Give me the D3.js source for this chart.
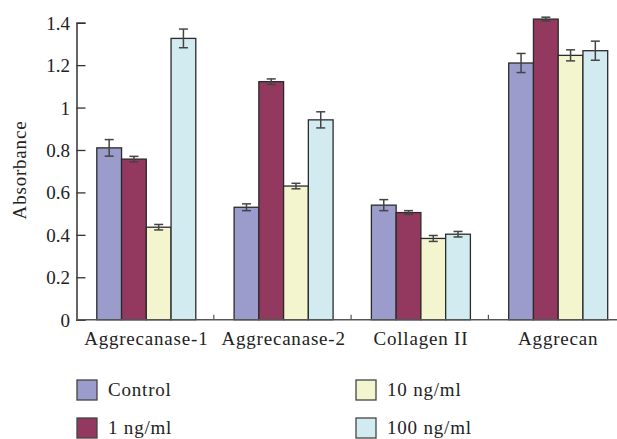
<!DOCTYPE html>
<html>
<head>
<meta charset="utf-8">
<script src="https://cdn.jsdelivr.net/npm/d3@7"></script>
<style>
html,body{margin:0;padding:0;background:#fff;}
text{font-family:"Liberation Serif","Times New Roman","DejaVu Serif",serif;fill:#222;}
</style>
</head>
<body>
<svg id="chart" width="617" height="439"></svg>
<script>
const categories = ["Aggrecanase-1", "Aggrecanase-2", "Collagen II", "Aggrecan"];
const seriesNames = ["Control", "1 ng/ml", "10 ng/ml", "100 ng/ml"];
const control   = [0.81, 0.53, 0.54, 1.21];
const ng1       = [0.757, 1.122, 0.505, 1.417];
const ng10      = [0.436, 0.630, 0.383, 1.246];
const ng100     = [1.326, 0.942, 0.403, 1.268];
const errControl = [0.039, 0.016, 0.026, 0.045];
const errNg1     = [0.013, 0.013, 0.009, 0.009];
const errNg10    = [0.013, 0.013, 0.014, 0.026];
const errNg100   = [0.044, 0.038, 0.013, 0.045];
const yTicks = [0, 0.2, 0.4, 0.6, 0.8, 1, 1.2, 1.4];
const colors = ["#9b9ccc", "#93385f", "#f3f5cf", "#d2ebf0"];

const values = [control, ng1, ng10, ng100];
const errors = [errControl, errNg1, errNg10, errNg100];

const svg = d3.select("#chart");
const x0 = 76.5, y0 = 319.7;
const band = 137.3;
const x = d3.scaleBand().domain(categories).range([x0, x0 + band * categories.length]).paddingInner(0).paddingOuter(0);
const xs = d3.scaleBand().domain(seriesNames).range([20.3, 20.3 + 99]).padding(0);
const y = d3.scaleLinear().domain([0, 1.4]).range([y0, 22.7]);

// bars
const g = svg.append("g");
categories.forEach((c, ci) => {
  seriesNames.forEach((s, si) => {
    const v = values[si][ci], e = errors[si][ci];
    const bx = x(c) + xs(s);
    g.append("rect")
      .attr("x", bx).attr("y", y(v))
      .attr("width", xs.bandwidth()).attr("height", y0 - y(v))
      .attr("fill", colors[si]).attr("stroke", "#2b2b2b").attr("stroke-width", 1.3);
    const cx = bx + xs.bandwidth() / 2;
    const eg = g.append("g").attr("stroke", "#444").attr("stroke-width", 1.5);
    eg.append("line").attr("x1", cx).attr("x2", cx).attr("y1", y(v + e)).attr("y2", y(v - e));
    eg.append("line").attr("x1", cx - 4.5).attr("x2", cx + 4.5).attr("y1", y(v + e)).attr("y2", y(v + e));
    eg.append("line").attr("x1", cx - 4.5).attr("x2", cx + 4.5).attr("y1", y(v - e)).attr("y2", y(v - e));
  });
});

// y axis
const yAxis = d3.axisLeft(y).tickValues(yTicks).tickSize(-9).tickPadding(16)
  .tickFormat(d => d === 0 ? "0" : d3.format("")(+d.toFixed(1)));
const ya = svg.append("g").attr("transform", `translate(${x0},0)`).call(yAxis);
ya.attr("font-family", null);
ya.select(".domain").attr("stroke", "#333").attr("stroke-width", 1.5);
ya.selectAll(".tick line").attr("stroke", "#333").attr("stroke-width", 1.3);
ya.selectAll(".tick text").attr("font-size", 19).attr("fill", "#222").attr("dy", "0.34em").attr("x", -6.5);

// x axis
const xa = svg.append("g").attr("transform", `translate(0,${y0})`);
xa.append("line").attr("x1", x0).attr("x2", 617).attr("y1", 0).attr("y2", 0).attr("stroke", "#555").attr("stroke-width", 1.6);
categories.slice(1).forEach(c => {
  xa.append("line").attr("x1", x(c)).attr("x2", x(c)).attr("y1", 0).attr("y2", -5).attr("stroke", "#555").attr("stroke-width", 1.2);
});
categories.forEach(c => {
  xa.append("text").attr("x", x(c) + xs(seriesNames[0]) + 49.5).attr("y", 25.5)
    .attr("text-anchor", "middle").attr("font-size", 19).attr("letter-spacing", 0.8).text(c);
});

// y label
svg.append("text").attr("transform", "translate(26,170) rotate(-90)")
  .attr("text-anchor", "middle").attr("font-size", 19).attr("letter-spacing", 0.8).text("Absorbance");

// legend
const legendPos = [[77, 380], [77, 418], [356, 380], [356, 418]];
seriesNames.forEach((s, i) => {
  const [lx, ly] = legendPos[i];
  svg.append("rect").attr("x", lx).attr("y", ly).attr("width", 20).attr("height", 20)
    .attr("fill", colors[i]).attr("stroke", "#444").attr("stroke-width", 1.3);
  svg.append("text").attr("x", lx + 31).attr("y", ly + 15.5).attr("font-size", 19).attr("letter-spacing", 0.8).text(s);
});
</script>
</body>
</html>
